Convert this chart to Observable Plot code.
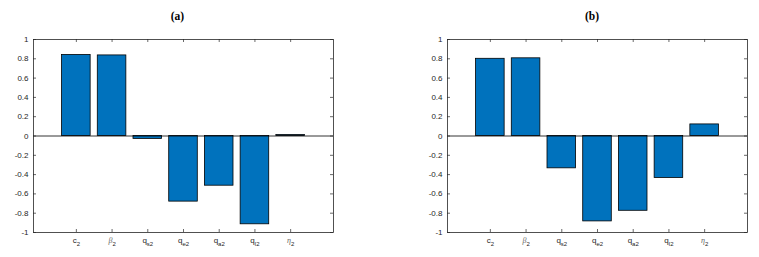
<!DOCTYPE html>
<html><head><meta charset="utf-8">
<script src="https://cdn.jsdelivr.net/npm/d3@7"></script>
<script src="https://cdn.jsdelivr.net/npm/@observablehq/plot@0.6"></script>
<style>
body{margin:0;background:#fff;}
#wrap{position:relative;width:759px;height:257px;overflow:hidden;}
.panel{position:absolute;top:0;}
.ttl{position:absolute;top:10px;line-height:12px;font:bold 11.5px "Liberation Serif","Times New Roman",serif;color:#000;transform:translateX(-50%);white-space:nowrap;}
</style></head><body><div id="wrap"></div>
<script>
// category labels: base | subscript
const categories = ["c|2", "β|2", "q|s2", "q|e2", "q|a2", "q|l2", "η|2"];
const positions = [1, 2, 3, 4, 5, 6, 7];
const valuesA = [0.84, 0.835, -0.03, -0.68, -0.515, -0.915, 0.01];
const valuesB = [0.80, 0.805, -0.335, -0.885, -0.775, -0.435, 0.12];
const yTicks = [-1, -0.8, -0.6, -0.4, -0.2, 0, 0.2, 0.4, 0.6, 0.8, 1];
const titles = ["(a)", "(b)"];

const wrap = document.getElementById("wrap");

function panel(values, cfg) {
  const data = values.map((v, k) => ({i: positions[k], v}));
  const W = cfg.width, H = 257;
  const mt = 39, mb = 25, ml = cfg.ml, mr = cfg.mr;
  const iw = W - ml - mr, ih = H - mt - mb;
  const axisColor = "#262626";
  const svg = Plot.plot({
    width: W, height: H,
    marginTop: mt, marginBottom: mb, marginLeft: ml, marginRight: mr,
    style: {fontFamily: "'Liberation Sans', Arial, sans-serif", fontSize: "8px", color: axisColor, background: "transparent"},
    x: {type: "linear", domain: [-0.2, 8.2], axis: null, label: null},
    y: {domain: [-1, 1], axis: null, label: null},
    marks: [
      Plot.rectY(data, {x1: d => d.i - 0.4, x2: d => d.i + 0.4, y: "v", fill: "#0072BD", stroke: "#000", strokeWidth: 0.8}),
      Plot.ruleY([0], {stroke: "#000", strokeWidth: 0.8}),
      Plot.tickY(yTicks, {y: d => d, insetRight: iw - 3, stroke: axisColor, strokeWidth: 0.7}),
      Plot.tickY(yTicks, {y: d => d, insetLeft: iw - 3, stroke: axisColor, strokeWidth: 0.7}),
      Plot.tickX(positions, {x: d => d, insetTop: ih - 3, stroke: axisColor, strokeWidth: 0.7}),
      Plot.tickX(positions, {x: d => d, insetBottom: ih - 3, stroke: axisColor, strokeWidth: 0.7}),
      Plot.axisY(yTicks, {tickSize: 0, tickPadding: 5, label: null, tickFormat: d => String(+d.toFixed(1)), fontSize: 8}),
      Plot.axisX(positions, {tickSize: 0, tickPadding: 5, label: null, tickFormat: i => categories[i - 1], fontSize: 8}),
      Plot.frame({stroke: axisColor, strokeWidth: 0.8})
    ]
  });
  // render subscripts
  d3.select(svg).selectAll('g[aria-label="x-axis tick label"] text').each(function() {
    const t = this.textContent;
    const [base, sub] = t.split("|");
    const el = d3.select(this);
    el.text(null);
    const greek = /[βη]/.test(base);
    el.append("tspan").text(base)
      .attr("font-style", greek ? "italic" : null)
      .attr("font-family", greek ? "'Liberation Serif', serif" : null)
      .attr("fill", greek ? "#666666" : null);
    el.append("tspan").text(sub).attr("font-size", "6px").attr("dy", "2.5");
  });
  const div = document.createElement("div");
  div.className = "panel";
  div.style.left = cfg.left + "px";
  div.appendChild(svg);
  wrap.appendChild(div);
  const tt = document.createElement("div");
  tt.className = "ttl";
  tt.style.left = cfg.titleX + "px";
  tt.textContent = cfg.title;
  wrap.appendChild(tt);
}

panel(valuesA, {left: 0, width: 380, ml: 33, mr: 47, titleX: 177.5, title: titles[0]});
panel(valuesB, {left: 380, width: 379, ml: 67, mr: 12, titleX: 592, title: titles[1]});
</script></body></html>
